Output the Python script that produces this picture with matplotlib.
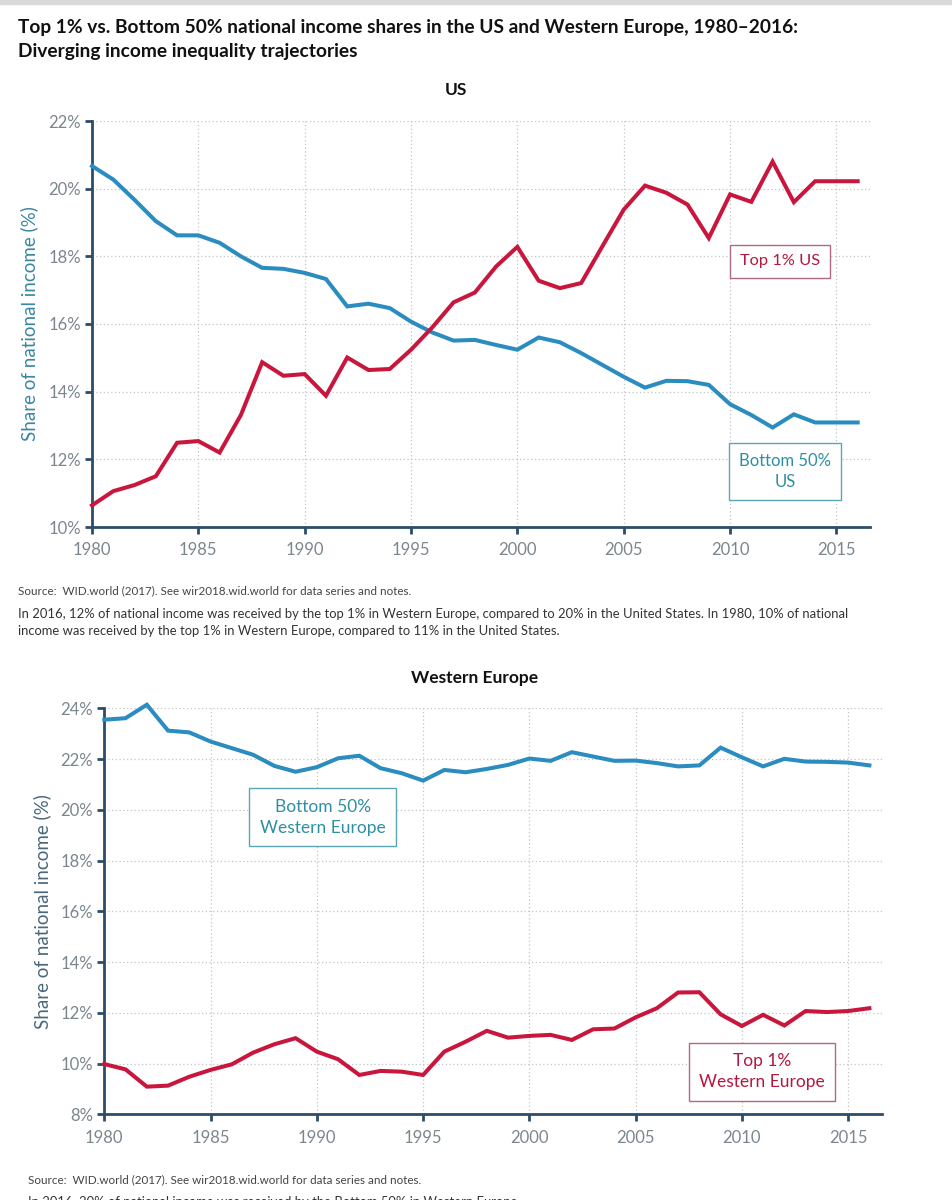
import matplotlib
matplotlib.use("Agg")
import matplotlib.pyplot as plt
from matplotlib.ticker import FuncFormatter, MultipleLocator
import matplotlib.patches as mpatches

years = list(range(1980, 2017))

us_bottom50 = [20.67, 20.27, 19.67, 19.04, 18.62, 18.62, 18.40, 18.00, 17.66, 17.63,
               17.51, 17.33, 16.52, 16.60, 16.47, 16.07, 15.75, 15.51, 15.53, 15.38,
               15.24, 15.60, 15.46, 15.14, 14.79, 14.44, 14.12, 14.32, 14.31, 14.20,
               13.63, 13.31, 12.94, 13.33, 13.09, 13.09, 13.09]
us_top1 = [10.64, 11.06, 11.24, 11.50, 12.49, 12.54, 12.20, 13.31, 14.87, 14.47,
           14.52, 13.88, 15.01, 14.64, 14.67, 15.24, 15.90, 16.64, 16.93, 17.70,
           18.28, 17.28, 17.06, 17.21, 18.30, 19.38, 20.09, 19.88, 19.53, 18.54,
           19.83, 19.61, 20.80, 19.60, 20.22, 20.22, 20.22]

we_bottom50 = [23.55, 23.61, 24.14, 23.12, 23.05, 22.69, 22.43, 22.17, 21.73, 21.50,
               21.68, 22.03, 22.13, 21.64, 21.44, 21.15, 21.57, 21.48, 21.61, 21.77,
               22.02, 21.93, 22.27, 22.10, 21.93, 21.94, 21.84, 21.71, 21.75, 22.45,
               22.07, 21.71, 22.01, 21.90, 21.89, 21.86, 21.75]
we_top1 = [9.98, 9.77, 9.09, 9.13, 9.48, 9.75, 9.97, 10.43, 10.76, 11.00,
           10.47, 10.17, 9.55, 9.71, 9.68, 9.55, 10.47, 10.86, 11.29, 11.02,
           11.09, 11.13, 10.93, 11.35, 11.38, 11.82, 12.18, 12.80, 12.81, 11.94,
           11.48, 11.92, 11.50, 12.07, 12.03, 12.07, 12.18]

x_ticks = [1980, 1985, 1990, 1995, 2000, 2005, 2010, 2015]

RED = "#c8163c"
BLUE = "#2a8cbf"
SPINE = "#2b4d69"
TICKC = "#7a878d"
TEAL = "#2e8fa3"

FONT = "Lato"
plt.rcParams['font.family'] = [FONT, 'DejaVu Sans']

fig = plt.figure(figsize=(9.52, 12), dpi=100)
fig.patches.append(mpatches.Rectangle((0, 1 - 4 / 1200), 1, 4 / 1200, transform=fig.transFigure,
                                      color="#d9d9d9", zorder=0))

fig.text(18 / 952, 1 - 27 / 1200,
         "Top 1% vs. Bottom 50% national income shares in the US and Western Europe, 1980–2016:",
         fontsize=13.8, fontweight='bold', color="#111111", va='center', ha='left')
fig.text(18 / 952, 1 - 52 / 1200,
         "Diverging income inequality trajectories",
         fontsize=13.8, fontweight='bold', color="#111111", va='center', ha='left')


def style_axes(ax, ylim, ystep, ylabel_color):
    ax.set_xlim(1980, 2016.58)
    ax.set_ylim(*ylim)
    ax.yaxis.set_major_locator(MultipleLocator(ystep))
    ax.set_xticks(x_ticks)
    ax.yaxis.set_major_formatter(FuncFormatter(lambda v, p: f"{v:.0f}%"))
    for s in ['top', 'right']:
        ax.spines[s].set_visible(False)
    for s in ['left', 'bottom']:
        ax.spines[s].set_color(SPINE)
        ax.spines[s].set_linewidth(2)
    ax.tick_params(axis='both', colors=SPINE, width=2, length=5, labelcolor=TICKC, labelsize=12)
    ax.tick_params(axis='x', pad=6)
    ax.tick_params(axis='y', pad=3)
    ax.grid(True, color="#c4c4c4", linestyle=(0, (1, 2)), linewidth=0.9)
    ax.set_axisbelow(True)
    ax.set_ylabel("Share of national income (%)", color=ylabel_color, fontsize=13.5, labelpad=7)


def label_box(ax, x, y, text, color, edge, fs=12):
    ax.text(x, y, text, transform=ax.transAxes, ha='center', va='center', color=color,
            fontsize=fs, linespacing=1.4,
            bbox=dict(boxstyle='square,pad=0.6', facecolor='white', edgecolor=edge, linewidth=1))


# Top panel: US
ax1 = fig.add_axes([92 / 952, 1 - 527 / 1200, 778 / 952, 406 / 1200])
ax1.plot(years, us_bottom50, color=BLUE, linewidth=2.9, solid_joinstyle='miter', zorder=3, clip_on=False)
ax1.plot(years, us_top1, color=RED, linewidth=2.9, solid_joinstyle='miter', zorder=3, clip_on=False)
style_axes(ax1, (10, 22), 2, "#3a86a0")
label_box(ax1, 0.884, 0.654, "Top 1% US", "#b5173f", "#b06a80", fs=11.8)
label_box(ax1, 0.891, 0.137, "Bottom 50%\nUS", TEAL, "#5aa6b5")
fig.text(456 / 952, 1 - 90 / 1200, "US", ha='center', va='center', fontsize=12.5,
         fontweight='bold', color="#111111")

fig.text(18 / 952, 1 - 591 / 1200, "Source:  WID.world (2017). See wir2018.wid.world for data series and notes.",
         fontsize=8.4, color="#444444", va='center')
fig.text(18 / 952, 1 - 614 / 1200,
         "In 2016, 12% of national income was received by the top 1% in Western Europe, compared to 20% in the United States. In 1980, 10% of national",
         fontsize=9.4, color="#333333", va='center')
fig.text(18 / 952, 1 - 631 / 1200,
         "income was received by the top 1% in Western Europe, compared to 11% in the United States.",
         fontsize=9.4, color="#333333", va='center')

# Bottom panel: Western Europe
ax2 = fig.add_axes([104.3 / 952, 1 - 1114.3 / 1200, 777.4 / 952, 406 / 1200])
ax2.plot(years, we_bottom50, color=BLUE, linewidth=2.9, solid_joinstyle='miter', zorder=3, clip_on=False)
ax2.plot(years, we_top1, color=RED, linewidth=2.9, solid_joinstyle='miter', zorder=3, clip_on=False)
style_axes(ax2, (8, 24), 2, "#4a677c")
label_box(ax2, 0.281, 0.732, "Bottom 50%\nWestern Europe", TEAL, "#5aa6b5", fs=12.5)
label_box(ax2, 0.846, 0.105, "Top 1%\nWestern Europe", "#b5173f", "#b06a80", fs=12.5)
fig.text(475 / 952, 1 - 678 / 1200, "Western Europe", ha='center', va='center', fontsize=12.5,
         fontweight='bold', color="#111111")

fig.text(28 / 952, 1 - 1180 / 1200, "Source:  WID.world (2017). See wir2018.wid.world for data series and notes.",
         fontsize=8.4, color="#444444", va='center')
fig.text(28 / 952, 1 - 1202 / 1200,
         "In 2016, 20% of national income was received by the Bottom 50% in Western Europe",
         fontsize=9.4, color="#333333", va='center')

fig.savefig("out.png", dpi=100)
